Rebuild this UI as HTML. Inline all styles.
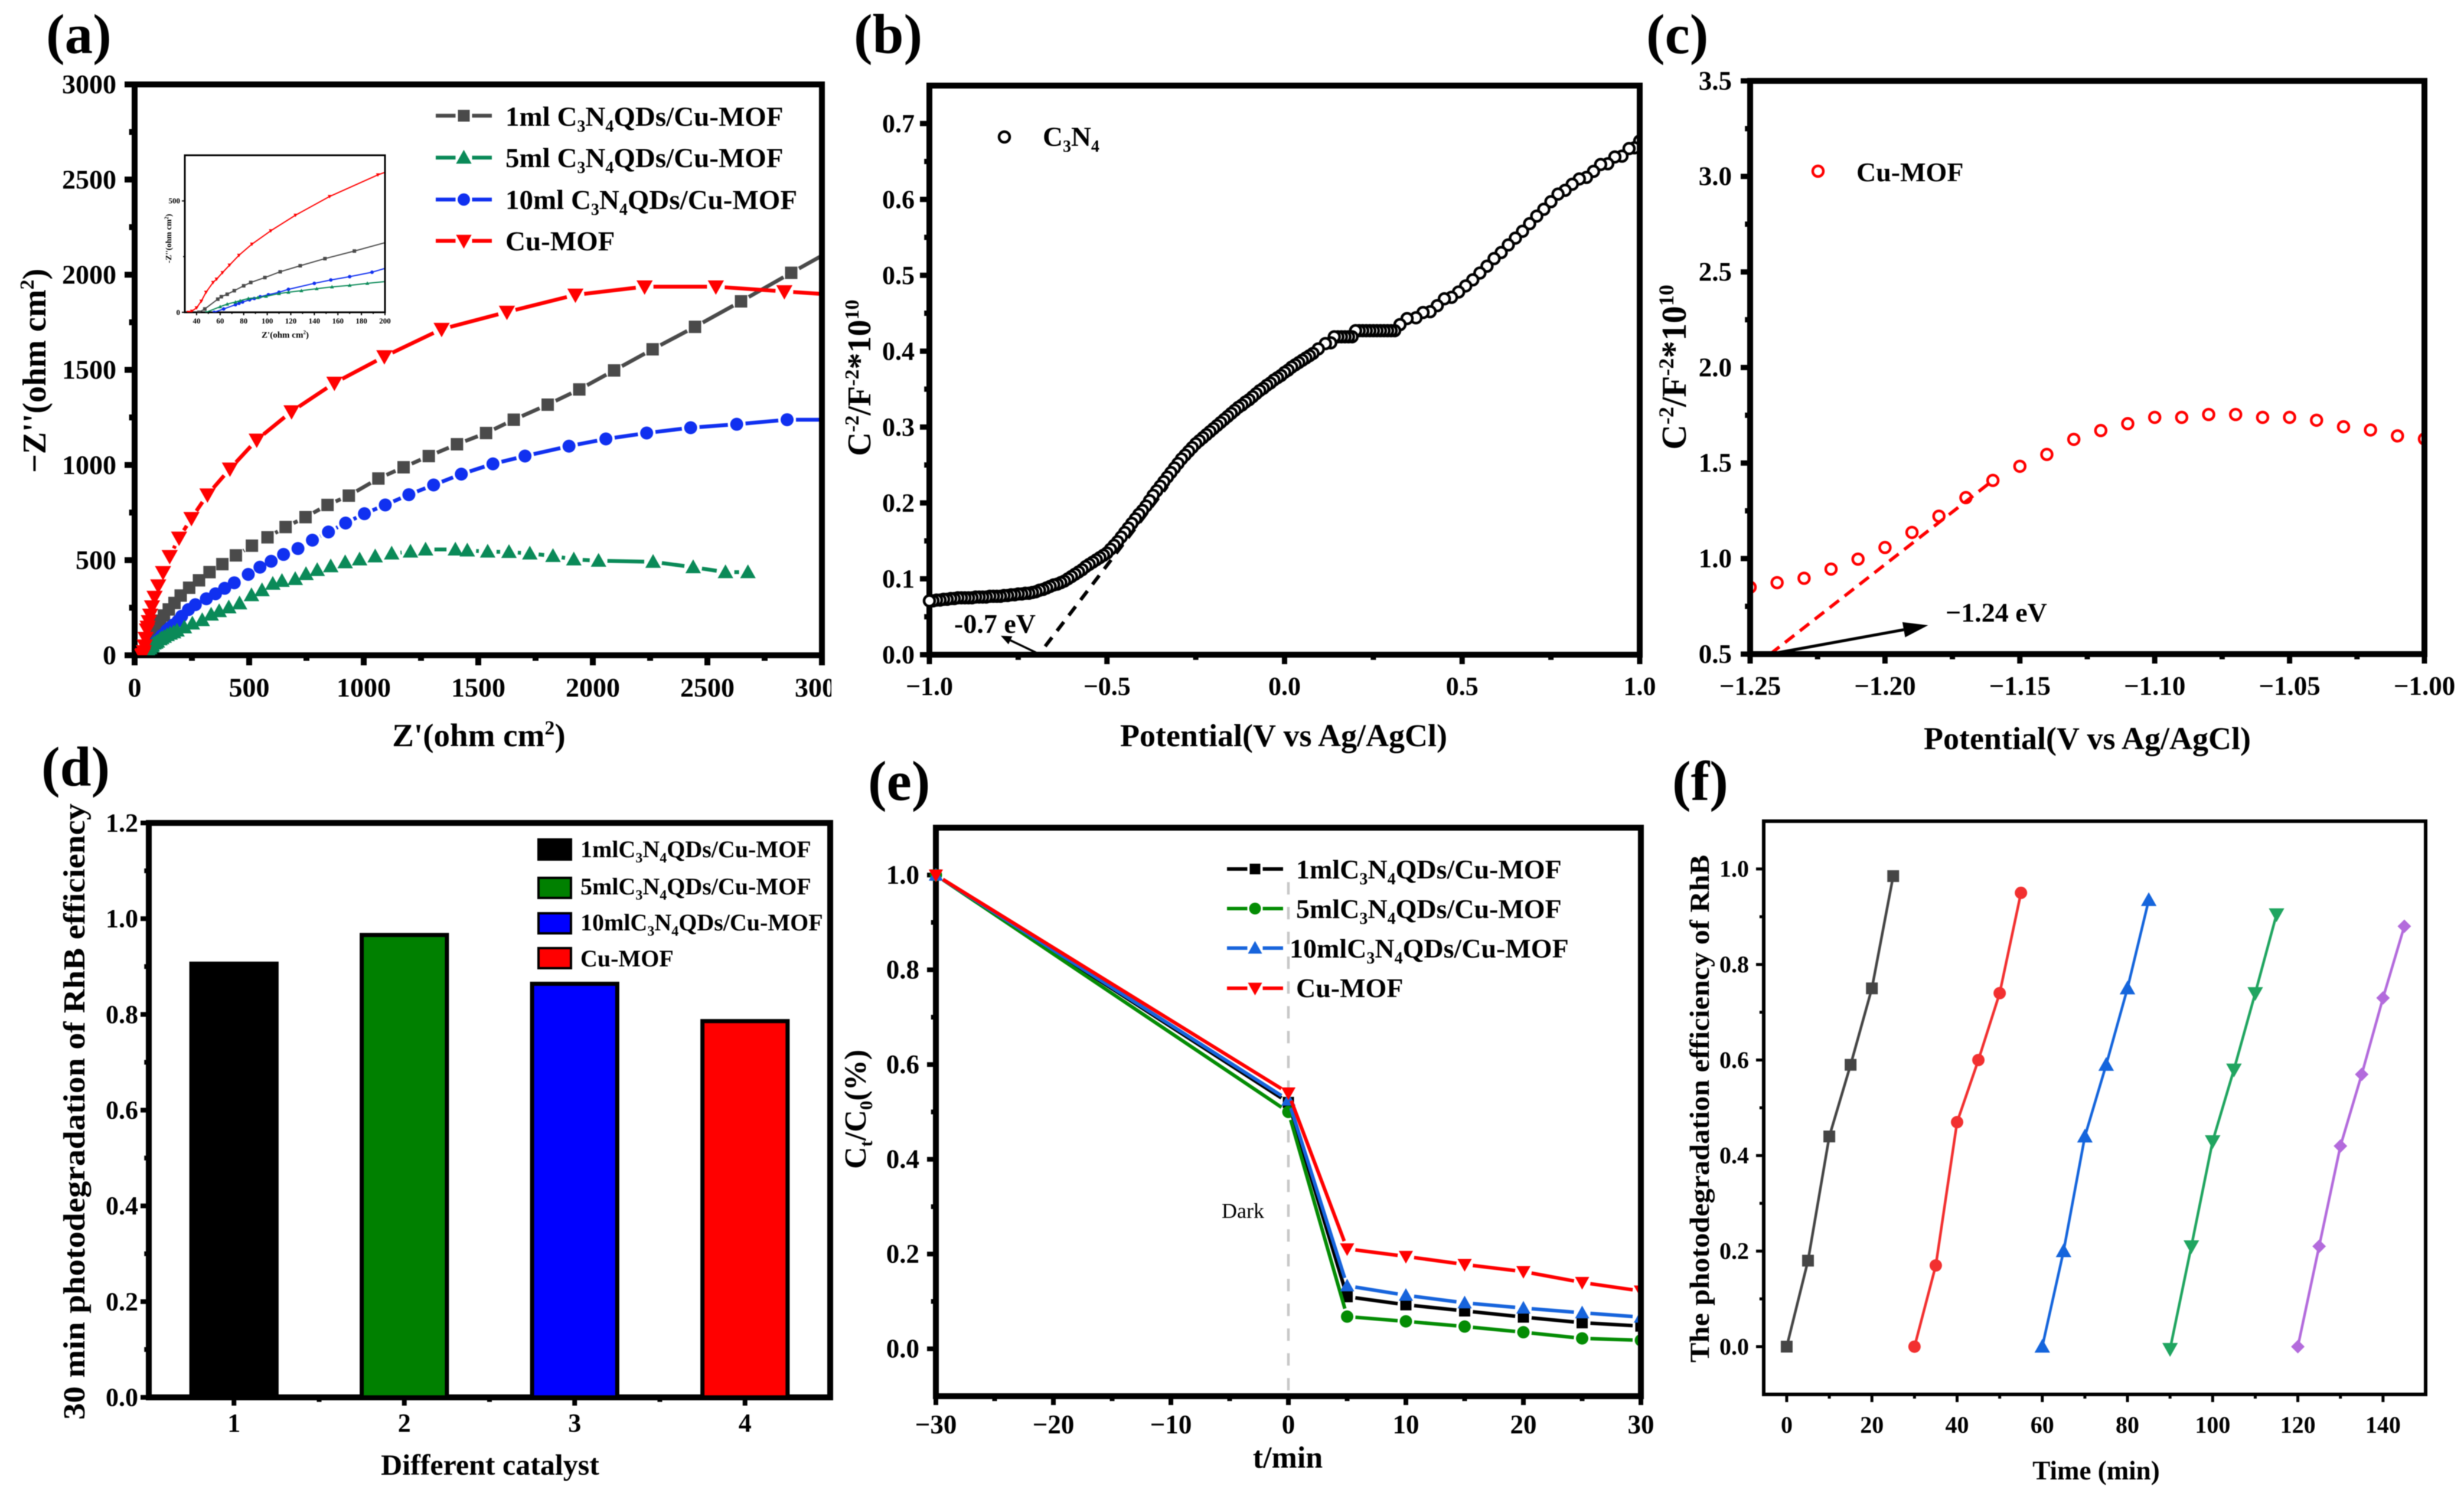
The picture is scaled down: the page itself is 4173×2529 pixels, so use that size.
<!DOCTYPE html>
<html lang="en">
<head>
<meta charset="utf-8">
<title>C3N4QDs/Cu-MOF characterisation figure</title>
<style>
html,body{margin:0;padding:0;background:#fff;}
svg{display:block;filter:blur(0.8px);}
text{font-family:"Liberation Serif",serif;font-weight:bold;fill:#000;}
</style>
</head>
<body>
<svg id="figure" width="4173" height="2529" viewBox="0 0 4173 2529">
<rect x="0" y="0" width="4173" height="2529" fill="#fff"/>
<defs id="clips"></defs>

<g id="panel-a"></g>
<g id="panel-b"></g>
<g id="panel-c"></g>
<g id="panel-d"></g>
<g id="panel-e"></g>
<g id="panel-f"></g>

<!-- panel letters -->
<text x="78" y="90" font-size="95">(a)</text>
<text x="1446" y="90" font-size="95">(b)</text>
<text x="2788" y="90" font-size="95">(c)</text>
<text x="70" y="1331" font-size="95">(d)</text>
<text x="1470" y="1355" font-size="95">(e)</text>
<text x="2832" y="1355" font-size="95">(f)</text>

<!-- panel a text -->
<text x="811" y="1264" font-size="55" text-anchor="middle">Z'(ohm cm<tspan font-size="34" dy="-20">2</tspan><tspan dy="20">)</tspan></text>
<text transform="translate(77,628) rotate(-90)" font-size="56" text-anchor="middle">−Z''(ohm cm<tspan font-size="34" dy="-20">2</tspan><tspan dy="20">)</tspan></text>
<g font-size="47">
<text x="856" y="213" font-size="47">1ml C<tspan font-size="28" dy="10">3</tspan><tspan dy="-10">N</tspan><tspan font-size="28" dy="10">4</tspan><tspan dy="-10">QDs/Cu-MOF</tspan></text>
<text x="856" y="283" font-size="47">5ml C<tspan font-size="28" dy="10">3</tspan><tspan dy="-10">N</tspan><tspan font-size="28" dy="10">4</tspan><tspan dy="-10">QDs/Cu-MOF</tspan></text>
<text x="856" y="354" font-size="47">10ml C<tspan font-size="28" dy="10">3</tspan><tspan dy="-10">N</tspan><tspan font-size="28" dy="10">4</tspan><tspan dy="-10">QDs/Cu-MOF</tspan></text>
<text x="856" y="424" font-size="47">Cu-MOF</text>
</g>
<text x="483" y="572" font-size="15" text-anchor="middle">Z'(ohm cm<tspan font-size="9" dy="-6">2</tspan><tspan dy="6">)</tspan></text>
<text transform="translate(290,404) rotate(-90)" font-size="14" text-anchor="middle">-Z''(ohm cm<tspan font-size="9" dy="-5">2</tspan><tspan dy="5">)</tspan></text>

<!-- panel b text -->
<text x="2174" y="1264" font-size="54" text-anchor="middle">Potential(V vs Ag/AgCl)</text>
<text transform="translate(1474,640) rotate(-90)" font-size="56" text-anchor="middle">C<tspan font-size="34" dy="-20">-2</tspan><tspan dy="20">/F</tspan><tspan font-size="34" dy="-20">-2</tspan><tspan dy="20">*10</tspan><tspan font-size="34" dy="-20">10</tspan></text>
<text x="1766" y="247" font-size="47">C<tspan font-size="28" dy="10">3</tspan><tspan dy="-10">N</tspan><tspan font-size="28" dy="10">4</tspan></text>
<text x="1616" y="1072" font-size="46">-0.7 eV</text>

<!-- panel c text -->
<text x="3535" y="1269" font-size="54" text-anchor="middle">Potential(V vs Ag/AgCl)</text>
<text transform="translate(2855,622) rotate(-90)" font-size="59" text-anchor="middle">C<tspan font-size="36" dy="-21">-2</tspan><tspan dy="21">/F</tspan><tspan font-size="36" dy="-21">-2</tspan><tspan dy="21">*10</tspan><tspan font-size="36" dy="-21">10</tspan></text>
<text x="3144" y="307" font-size="46">Cu-MOF</text>
<text x="3295" y="1053" font-size="46">−1.24 eV</text>

<!-- panel d text -->
<text x="830" y="2498" font-size="50" text-anchor="middle">Different catalyst</text>
<text transform="translate(143,1883) rotate(-90)" font-size="52" text-anchor="middle" textLength="1044" lengthAdjust="spacingAndGlyphs">30 min photodegradation of RhB efficiency</text>
<text x="983" y="1452" font-size="40">1mlC<tspan font-size="24" dy="9">3</tspan><tspan dy="-9">N</tspan><tspan font-size="24" dy="9">4</tspan><tspan dy="-9">QDs/Cu-MOF</tspan></text>
<text x="983" y="1515" font-size="40">5mlC<tspan font-size="24" dy="9">3</tspan><tspan dy="-9">N</tspan><tspan font-size="24" dy="9">4</tspan><tspan dy="-9">QDs/Cu-MOF</tspan></text>
<text x="983" y="1576" font-size="40">10mlC<tspan font-size="24" dy="9">3</tspan><tspan dy="-9">N</tspan><tspan font-size="24" dy="9">4</tspan><tspan dy="-9">QDs/Cu-MOF</tspan></text>
<text x="983" y="1637" font-size="40">Cu-MOF</text>

<!-- panel e text -->
<text x="2181" y="2486" font-size="52" text-anchor="middle">t/min</text>
<text transform="translate(1466,1879) rotate(-90)" font-size="52" text-anchor="middle">C<tspan font-size="31" dy="11">t</tspan><tspan dy="-11">/C</tspan><tspan font-size="31" dy="11">0</tspan><tspan dy="-11">(%)</tspan></text>
<text x="2195" y="1488" font-size="46">1mlC<tspan font-size="28" dy="10">3</tspan><tspan dy="-10">N</tspan><tspan font-size="28" dy="10">4</tspan><tspan dy="-10">QDs/Cu-MOF</tspan></text>
<text x="2195" y="1555" font-size="46">5mlC<tspan font-size="28" dy="10">3</tspan><tspan dy="-10">N</tspan><tspan font-size="28" dy="10">4</tspan><tspan dy="-10">QDs/Cu-MOF</tspan></text>
<text x="2184" y="1622" font-size="46">10mlC<tspan font-size="28" dy="10">3</tspan><tspan dy="-10">N</tspan><tspan font-size="28" dy="10">4</tspan><tspan dy="-10">QDs/Cu-MOF</tspan></text>
<text x="2195" y="1689" font-size="46">Cu-MOF</text>
<text x="2069" y="2063" font-size="36" style="font-weight:normal">Dark</text>

<!-- panel f text -->
<text x="3550" y="2506" font-size="45" text-anchor="middle">Time (min)</text>
<text transform="translate(2894,1878) rotate(-90)" font-size="47" text-anchor="middle" textLength="860" lengthAdjust="spacingAndGlyphs">The photodegradation efficiency of RhB</text>

<script>
/* ---------- panel (a) data ---------- */
const aXTicks = [0,500,1000,1500,2000,2500,3000];
const aXLabels = ['0','500','1000','1500','2000','2500','3000'];
const aYTicks = [0,500,1000,1500,2000,2500,3000];
const aYLabels = ['0','500','1000','1500','2000','2500','3000'];
const aBlackX = [42,47,58,61,66,72,80,86,98,111,128,149,174,201,238,281,327,383,442,512,580,659,746,842,935,1064,1174,1284,1407,1534,1655,1803,1941,2093,2261,2446,2647,2866,3000];
const aBlackY = [0,15,59,70,81,97,119,134,156,182,209,241,275,314,355,394,437,479,525,576,620,674,726,790,839,929,988,1047,1109,1168,1238,1317,1397,1497,1608,1726,1860,2010,2100];
const aGreenX = [48,60,66,73,77,84,92,99,110,118,129,142,155,170,185,217,252,295,334,369,411,458,510,556,603,643,701,748,797,856,919,982,1050,1122,1204,1270,1400,1452,1541,1634,1725,1826,1917,2025,2263,2438,2579,2677];
const aGreenY = [0,25,37,46,52,62,66,72,84,90,97,106,114,121,130,147,167,185,214,232,252,273,316,342,376,391,401,427,448,468,489,504,520,535,545,556,556,551,545,543,535,522,504,497,491,463,437,437];
const aBlueX = [55,63,73,76,79,85,89,94,101,110,118,140,154,170,189,205,235,265,313,353,393,435,496,547,596,650,713,776,846,921,1003,1094,1197,1305,1426,1564,1704,1896,2057,2235,2427,2628,2848,3000];
const aBlueY = [0,15,34,40,46,56,62,70,79,90,103,130,145,160,180,205,240,266,297,323,352,381,425,463,494,530,561,605,648,695,744,790,844,895,952,1006,1047,1099,1137,1168,1196,1214,1238,1238];
const aRedX = [33,36,40,44,48,54,57,62,68,76,87,103,124,153,194,248,318,416,533,685,872,1090,1340,1625,1924,2226,2537,2836,3000];
const aRedY = [0,5,20,50,90,134,149,178,212,256,306,366,436,520,617,720,844,980,1132,1281,1431,1570,1714,1804,1894,1937,1937,1912,1899];
const insetXTicks = [40,60,80,100,120,140,160,180,200];
const insetXLabels = ['40','60','80','100','120','140','160','180','200'];
const insetYTicks = [0,500];
const insetYLabels = ['0','500'];

/* ---------- panel (b) data ---------- */
const bXTicks = [-1,-0.5,0,0.5,1];
const bXLabels = ['−1.0','−0.5','0.0','0.5','1.0'];
const bYTicks = [0,0.1,0.2,0.3,0.4,0.5,0.6,0.7];
const bYLabels = ['0.0','0.1','0.2','0.3','0.4','0.5','0.6','0.7'];
const bPotential = [-1,-0.99,-0.98,-0.97,-0.96,-0.95,-0.94,-0.93,-0.92,-0.91,-0.9,-0.89,-0.88,-0.87,-0.86,-0.85,-0.84,-0.83,-0.82,-0.81,-0.8,-0.79,-0.78,-0.77,-0.76,-0.75,-0.74,-0.73,-0.72,-0.71,-0.7,-0.69,-0.68,-0.67,-0.66,-0.65,-0.64,-0.63,-0.62,-0.61,-0.6,-0.59,-0.58,-0.57,-0.56,-0.55,-0.54,-0.53,-0.52,-0.51,-0.5,-0.49,-0.48,-0.47,-0.46,-0.45,-0.44,-0.43,-0.42,-0.41,-0.4,-0.39,-0.38,-0.37,-0.36,-0.35,-0.34,-0.33,-0.32,-0.31,-0.3,-0.29,-0.28,-0.27,-0.26,-0.25,-0.24,-0.23,-0.22,-0.21,-0.2,-0.19,-0.18,-0.17,-0.16,-0.15,-0.14,-0.13,-0.12,-0.11,-0.1,-0.09,-0.08,-0.07,-0.06,-0.05,-0.04,-0.03,-0.02,-0.01,0,0.01,0.02,0.03,0.04,0.05,0.06,0.07,0.08,0.095,0.115,0.13,0.14,0.15,0.16,0.17,0.18,0.19,0.2,0.21,0.22,0.23,0.24,0.25,0.26,0.27,0.28,0.29,0.3,0.31,0.325,0.345,0.37,0.39,0.41,0.43,0.45,0.47,0.49,0.51,0.53,0.55,0.57,0.59,0.61,0.63,0.65,0.67,0.69,0.71,0.73,0.75,0.77,0.79,0.81,0.83,0.85,0.87,0.89,0.91,0.93,0.95,0.97,0.985,1];
const bCapacitance = [0.071,0.071,0.072,0.072,0.073,0.073,0.074,0.074,0.075,0.075,0.075,0.075,0.075,0.076,0.076,0.076,0.076,0.077,0.077,0.077,0.077,0.078,0.078,0.079,0.079,0.08,0.08,0.081,0.081,0.082,0.083,0.085,0.086,0.088,0.09,0.092,0.093,0.095,0.097,0.1,0.103,0.106,0.109,0.112,0.116,0.119,0.122,0.125,0.128,0.131,0.134,0.139,0.144,0.149,0.155,0.161,0.167,0.173,0.179,0.185,0.19,0.196,0.203,0.21,0.216,0.222,0.228,0.234,0.24,0.246,0.252,0.258,0.263,0.268,0.273,0.278,0.282,0.286,0.29,0.294,0.298,0.302,0.306,0.31,0.314,0.318,0.322,0.326,0.329,0.333,0.336,0.34,0.344,0.348,0.351,0.355,0.358,0.362,0.365,0.368,0.372,0.375,0.379,0.382,0.385,0.388,0.391,0.394,0.397,0.403,0.41,0.411,0.419,0.419,0.419,0.419,0.419,0.419,0.427,0.427,0.427,0.427,0.427,0.427,0.427,0.427,0.427,0.427,0.427,0.427,0.435,0.443,0.444,0.451,0.452,0.46,0.469,0.471,0.478,0.486,0.494,0.503,0.512,0.522,0.53,0.54,0.549,0.558,0.568,0.578,0.587,0.597,0.607,0.612,0.62,0.627,0.629,0.637,0.646,0.647,0.656,0.657,0.667,0.668,0.677,0.677,0.677];

/* ---------- panel (c) data ---------- */
const cXTicks = [-1.25,-1.2,-1.15,-1.1,-1.05,-1];
const cXLabels = ['−1.25','−1.20','−1.15','−1.10','−1.05','−1.00'];
const cYTicks = [0.5,1,1.5,2,2.5,3,3.5];
const cYLabels = ['0.5','1.0','1.5','2.0','2.5','3.0','3.5'];
const cPotential = [-1.25,-1.24,-1.23,-1.22,-1.21,-1.2,-1.19,-1.18,-1.17,-1.16,-1.15,-1.14,-1.13,-1.12,-1.11,-1.1,-1.09,-1.08,-1.07,-1.06,-1.05,-1.04,-1.03,-1.02,-1.01,-1];
const cCapacitance = [0.85,0.874,0.897,0.945,0.997,1.058,1.137,1.222,1.319,1.409,1.483,1.545,1.624,1.67,1.706,1.739,1.739,1.754,1.754,1.739,1.739,1.724,1.69,1.673,1.642,1.626];

/* ---------- panel (d) data ---------- */
const dCategories = [1,2,3,4];
const dCategoryLabels = ['1','2','3','4'];
const dEfficiency = [0.906,0.966,0.864,0.786];
const dColors = ['#000000','#008000','#0000ff','#ff0000'];
const dYTicks = [0,0.2,0.4,0.6,0.8,1,1.2];
const dYLabels = ['0.0','0.2','0.4','0.6','0.8','1.0','1.2'];

/* ---------- panel (e) data ---------- */
const eXTicks = [-30,-20,-10,0,10,20,30];
const eXLabels = ['−30','−20','−10','0','10','20','30'];
const eYTicks = [0,0.2,0.4,0.6,0.8,1];
const eYLabels = ['0.0','0.2','0.4','0.6','0.8','1.0'];
const eTime = [-30,0,5,10,15,20,25,30];
const e1ml = [1,0.52,0.11,0.093,0.08,0.067,0.055,0.048];
const e5ml = [1,0.5,0.068,0.058,0.047,0.035,0.022,0.018];
const e10ml = [1,0.525,0.133,0.113,0.097,0.086,0.076,0.067];
const eCuMof = [1,0.54,0.211,0.195,0.178,0.163,0.14,0.122];

/* ---------- panel (f) data ---------- */
const fXTicks = [0,20,40,60,80,100,120,140];
const fXLabels = ['0','20','40','60','80','100','120','140'];
const fYTicks = [0,0.2,0.4,0.6,0.8,1];
const fYLabels = ['0.0','0.2','0.4','0.6','0.8','1.0'];
const fTime1 = [0,5,10,15,20,25];
const fRun1 = [0,0.18,0.44,0.59,0.75,0.985];
const fTime2 = [30,35,40,45,50,55];
const fRun2 = [0,0.17,0.47,0.6,0.74,0.95];
const fTime3 = [60,65,70,75,80,85];
const fRun3 = [0,0.2,0.44,0.59,0.75,0.935];
const fTime4 = [90,95,100,105,110,115];
const fRun4 = [-0.005,0.21,0.43,0.58,0.74,0.905];
const fTime5 = [120,125,130,135,140,145];
const fRun5 = [0,0.21,0.42,0.57,0.73,0.88];

/* ---------- helpers ---------- */
const NS = 'http://www.w3.org/2000/svg';
function mk(parent, tag, name, attrs) {
  const el = document.createElementNS(NS, tag);
  
  
  for (const k in attrs) el.setAttribute(k, attrs[k]);
  parent.appendChild(el);
  return el;
}
function label(parent, name, str, x, y, size, anchor, extra) {
  const el = mk(parent, 'text', name, Object.assign({x:x, y:y, 'font-size':size, 'text-anchor':anchor}, extra || {}));
  el.textContent = str;
  return el;
}
function marker(parent, name, shape, cx, cy, s, fill, stroke, sw) {
  const h = s / 2;
  const common = {fill: fill, stroke: stroke, 'stroke-width': sw};
  if (shape === 'square') return mk(parent, 'rect', name, Object.assign({x: cx - h, y: cy - h, width: s, height: s}, common));
  if (shape === 'circle') return mk(parent, 'circle', name, Object.assign({cx: cx, cy: cy, r: h}, common));
  let pts;
  if (shape === 'up') pts = [[cx, cy - h * 1.1], [cx + h * 1.1, cy + h * 0.85], [cx - h * 1.1, cy + h * 0.85]];
  if (shape === 'down') pts = [[cx, cy + h * 1.1], [cx + h * 1.1, cy - h * 0.85], [cx - h * 1.1, cy - h * 0.85]];
  if (shape === 'diamond') pts = [[cx, cy - h * 1.15], [cx + h * 1.15, cy], [cx, cy + h * 1.15], [cx - h * 1.15, cy]];
  return mk(parent, 'polygon', name, Object.assign({points: pts.map(p => p.join(',')).join(' ')}, common));
}
let clipCount = 0;
function axes(root, key, box, xDom, yDom, xT, xL, yT, yL, st) {
  const x = v => box.l + (v - xDom[0]) / (xDom[1] - xDom[0]) * (box.r - box.l);
  const y = v => box.b - (v - yDom[0]) / (yDom[1] - yDom[0]) * (box.b - box.t);
  const id = 'clip-' + key + '-' + (clipCount++);
  const cp = document.createElementNS(NS, 'clipPath');
  cp.setAttribute('id', id);
  const pad = st.pad === undefined ? 24 : st.pad;
  const cr = document.createElementNS(NS, 'rect');
  cr.setAttribute('x', box.l - pad);
  cr.setAttribute('y', box.t);
  cr.setAttribute('width', box.r - box.l + pad - st.frame / 2);
  cr.setAttribute('height', box.b - box.t + (st.padBottom === undefined ? pad : st.padBottom));
  cp.appendChild(cr);
  document.getElementById('clips').appendChild(cp);

  const frame = () => mk(root, 'rect', key + '-plot-frame', {x: box.l, y: box.t, width: box.r - box.l, height: box.b - box.t, fill: 'none', stroke: '#000', 'stroke-width': st.frame});
  if (!st.frameLast) frame();

  const tickW = st.tickW;
  xT.forEach((v, i) => {
    mk(root, 'line', key + '-x-tick', {x1: x(v), x2: x(v), y1: box.b, y2: box.b + st.tickLen, stroke: '#000', 'stroke-width': tickW});
    if (i < xT.length - 1) {
      const m = (v + xT[i + 1]) / 2;
      mk(root, 'line', key + '-x-minor-tick', {x1: x(m), x2: x(m), y1: box.b, y2: box.b + st.tickLen * 0.55, stroke: '#000', 'stroke-width': tickW});
    }
    const extra = st.labelClip ? {'clip-path': 'url(#' + st.labelClip + ')'} : {};
    label(root, key + '-x-tick-label', xL[i], x(v), st.xBase, st.font, 'middle', extra);
  });
  yT.forEach((v, i) => {
    mk(root, 'line', key + '-y-tick', {x1: box.l - st.tickLen, x2: box.l, y1: y(v), y2: y(v), stroke: '#000', 'stroke-width': tickW});
    if (i < yT.length - 1) {
      const m = (v + yT[i + 1]) / 2;
      mk(root, 'line', key + '-y-minor-tick', {x1: box.l - st.tickLen * 0.55, x2: box.l, y1: y(m), y2: y(m), stroke: '#000', 'stroke-width': tickW});
    }
    label(root, key + '-y-tick-label', yL[i], st.yRight, y(v) + st.font * 0.33, st.font, 'end');
  });
  const marks = mk(root, 'g', key + '-marks', {'clip-path': 'url(#' + id + ')'});
  return {x: x, y: y, box: box, marks: marks, root: root, frame: frame};
}
function series(p, name, xs, ys, color, shape, size, lw, opt) {
  opt = opt || {};
  const g = mk(p.marks, 'g', name, {});
  const gap = opt.gap || 0;
  if (gap > 0) {
    /* Origin-style: each segment stops short of the markers at both ends */
    for (let i = 0; i < xs.length - 1; i++) {
      const x0 = p.x(xs[i]), y0 = p.y(ys[i]), x1 = p.x(xs[i + 1]), y1 = p.y(ys[i + 1]);
      const d = Math.hypot(x1 - x0, y1 - y0);
      const endGap = (opt.noMarkerAt !== undefined && xs[i + 1] >= opt.noMarkerAt) ? 0 : gap;
      if (d <= gap + endGap) continue;
      const ux = (x1 - x0) / d, uy = (y1 - y0) / d;
      mk(g, 'line', name + '-segment', {x1: x0 + ux * gap, y1: y0 + uy * gap, x2: x1 - ux * endGap, y2: y1 - uy * endGap, stroke: color, 'stroke-width': lw});
    }
  } else {
    mk(g, 'polyline', name + '-line', {points: xs.map((v, i) => p.x(v) + ',' + p.y(ys[i])).join(' '), fill: 'none', stroke: color, 'stroke-width': lw, 'stroke-linejoin': 'round'});
  }
  xs.forEach((v, i) => {
    if (opt.noMarkerAt !== undefined && v >= opt.noMarkerAt) return;
    marker(g, name + '-point', shape, p.x(v), p.y(ys[i]), size, color, 'none', 0);
  });
}
function arrow(parent, name, x1, y1, x2, y2, len, wid, lw) {
  const a = Math.atan2(y2 - y1, x2 - x1);
  const bx = x2 - Math.cos(a) * len, by = y2 - Math.sin(a) * len;
  const nx = -Math.sin(a) * wid / 2, ny = Math.cos(a) * wid / 2;
  mk(parent, 'line', name + '-shaft', {x1: x1, y1: y1, x2: bx, y2: by, stroke: '#000', 'stroke-width': lw});
  mk(parent, 'polygon', name + '-head', {points: [x2 + ',' + y2, (bx + nx) + ',' + (by + ny), (bx - nx) + ',' + (by - ny)].join(' '), fill: '#000'});
}
function legendHandle(parent, name, x1, x2, y, color, shape, size, lw, gap) {
  const mid = (x1 + x2) / 2;
  mk(parent, 'line', name + '-line-left', {x1: x1, x2: mid - gap, y1: y, y2: y, stroke: color, 'stroke-width': lw});
  mk(parent, 'line', name + '-line-right', {x1: mid + gap, x2: x2, y1: y, y2: y, stroke: color, 'stroke-width': lw});
  marker(parent, name + '-marker', shape, mid, y, size, color, 'none', 0);
}

/* label clip so the 3000 tick of panel (a) is cut by panel (b), as in the figure */
(function () {
  const cp = document.createElementNS(NS, 'clipPath');
  cp.setAttribute('id', 'clip-a-labels');
  const r = document.createElementNS(NS, 'rect');
  r.setAttribute('x', 0); r.setAttribute('y', 0); r.setAttribute('width', 1408); r.setAttribute('height', 2529);
  cp.appendChild(r);
  document.getElementById('clips').appendChild(cp);
})();

const colBlack = '#4a4a4a', colGreen = '#0a8a58', colBlue = '#1030f0', colRed = '#ff0000';

/* ---------- panel a ---------- */
(function () {
  const root = document.getElementById('panel-a');
  const p = axes(root, 'a', {l:228, r:1392, t:143, b:1110}, [0,3000], [0,3000], aXTicks, aXLabels, aYTicks, aYLabels,
    {frame:10, tickLen:17, tickW:10, font:46, xBase:1180, yRight:197, labelClip:'clip-a-labels', padBottom:0});
  const o = {noMarkerAt:3000, gap:15};
  series(p, 'a-series-1ml', aBlackX, aBlackY, colBlack, 'square', 21, 6.5, o);
  series(p, 'a-series-10ml', aBlueX, aBlueY, colBlue, 'circle', 22, 6.5, o);
  series(p, 'a-series-5ml', aGreenX, aGreenY, colGreen, 'up', 24, 6.5, o);
  series(p, 'a-series-cu-mof', aRedX, aRedY, colRed, 'down', 25, 6.5, o);
  legendHandle(root, 'a-legend-handle-1ml', 738, 833, 196, colBlack, 'square', 20, 6.5, 14);
  legendHandle(root, 'a-legend-handle-5ml', 738, 833, 267, colGreen, 'up', 24, 6.5, 14);
  legendHandle(root, 'a-legend-handle-10ml', 738, 833, 338, colBlue, 'circle', 21, 6.5, 14);
  legendHandle(root, 'a-legend-handle-cu-mof', 738, 833, 408, colRed, 'down', 24, 6.5, 14);

  const inset = mk(root, 'g', 'a-inset', {});
  mk(inset, 'rect', 'a-inset-background', {x:313, y:263, width:339, height:266, fill:'#fff'});
  const q = axes(inset, 'inset', {l:313, r:652, t:263, b:529}, [30,200], [0,705], insetXTicks, insetXLabels, insetYTicks, insetYLabels,
    {frame:3, tickLen:5, tickW:2, font:13, xBase:548, yRight:305, pad:0});
  series(q, 'inset-series-1ml', aBlackX, aBlackY, colBlack, 'square', 6, 2);
  series(q, 'inset-series-10ml', aBlueX, aBlueY, colBlue, 'circle', 6, 2);
  series(q, 'inset-series-5ml', aGreenX, aGreenY, colGreen, 'up', 6, 2);
  series(q, 'inset-series-cu-mof', aRedX, aRedY, colRed, 'down', 6, 2);
})();

/* ---------- panel b ---------- */
(function () {
  const root = document.getElementById('panel-b');
  const p = axes(root, 'b', {l:1574, r:2777, t:145, b:1109}, [-1,1], [0,0.75], bXTicks, bXLabels, bYTicks, bYLabels,
    {frame:10, tickLen:16, tickW:9, font:44, xBase:1177, yRight:1549});
  mk(p.marks, 'line', 'b-tangent-line', {x1:p.x(-0.674), y1:p.y(0.011), x2:p.x(-0.33), y2:p.y(0.222), stroke:'#000', 'stroke-width':6, 'stroke-dasharray':'19 14'});
  const g = mk(p.marks, 'g', 'b-series-c3n4', {});
  /* white-filled rings painted from the high-potential end, so each ring overlaps its right-hand neighbour */
  for (let i = bPotential.length - 1; i >= 0; i--) {
    marker(g, 'b-point', 'circle', p.x(bPotential[i]), p.y(bCapacitance[i]), 18, '#fff', '#000', 4.5);
  }
  arrow(root, 'b-annotation-arrow', p.x(-0.696), p.y(0.002), p.x(-0.799), p.y(0.025), 18, 15, 3.5);
  marker(root, 'b-legend-marker', 'circle', 1701, 232, 18, '#fff', '#000', 4.5);
})();

/* ---------- panel c ---------- */
(function () {
  const root = document.getElementById('panel-c');
  const p = axes(root, 'c', {l:2964, r:4106, t:137, b:1108}, [-1.25,-1], [0.5,3.5], cXTicks, cXLabels, cYTicks, cYLabels,
    {frame:10, tickLen:16, tickW:9, font:45, xBase:1177, yRight:2933, pad:0, frameLast:true});
  mk(p.marks, 'line', 'c-tangent-line', {x1:p.x(-1.2426), y1:p.y(0.5), x2:p.x(-1.16), y2:p.y(1.409), stroke:'#ff0000', 'stroke-width':5.5, 'stroke-dasharray':'20 12'});
  const g = mk(p.marks, 'g', 'c-series-cu-mof', {});
  cPotential.forEach((v, i) => {
    marker(g, 'c-point', 'circle', p.x(v), p.y(cCapacitance[i]), 18, 'none', '#ff0000', 4.5);
  });
  p.frame();
  arrow(root, 'c-annotation-arrow', p.x(-1.2426), p.y(0.5), p.x(-1.184), p.y(0.651), 42, 26, 5);
  marker(root, 'c-legend-marker', 'circle', 3079, 290, 18, 'none', '#ff0000', 4.5);
})();

/* ---------- panel d ---------- */
(function () {
  const root = document.getElementById('panel-d');
  const p = axes(root, 'd', {l:252, r:1406, t:1394, b:2367}, [0.5,4.5], [0,1.2], dCategories, dCategoryLabels, dYTicks, dYLabels,
    {frame:10, tickLen:14, tickW:8, font:44, xBase:2425, yRight:234});
  const barW = 0.5;
  dCategories.forEach((c, i) => {
    const x0 = p.x(c - barW / 2), x1 = p.x(c + barW / 2);
    const bar = mk(p.marks, 'rect', 'd-bar', {x:x0, y:p.y(dEfficiency[i]), width:x1 - x0, height:p.y(0) - p.y(dEfficiency[i]), fill:dColors[i], stroke:'#000', 'stroke-width':7});
    bar.setAttribute('data-category', c);
  });
  ['1ml','5ml','10ml','cu-mof'].forEach((n, i) => {
    const tops = [1422, 1487, 1547, 1606];
    mk(root, 'rect', 'd-legend-swatch-' + n, {x:912, y:tops[i], width:55, height:34, fill:dColors[i], stroke:'#000', 'stroke-width':4});
  });
})();

/* ---------- panel e ---------- */
(function () {
  const root = document.getElementById('panel-e');
  const p = axes(root, 'e', {l:1585, r:2779, t:1402, b:2365}, [-30,30], [-0.1,1.1], eXTicks, eXLabels, eYTicks, eYLabels,
    {frame:10, tickLen:15, tickW:8, font:45, xBase:2428, yRight:1557});
  mk(p.marks, 'line', 'e-dark-divider', {x1:p.x(0), x2:p.x(0), y1:p.y(0.985), y2:p.y(-0.1), stroke:'#c8c8c8', 'stroke-width':4.5, 'stroke-dasharray':'21 21'});
  const o = {gap:14};
  series(p, 'e-series-1ml', eTime, e1ml, '#000000', 'square', 19, 6, o);
  series(p, 'e-series-5ml', eTime, e5ml, '#048c04', 'circle', 21, 6, o);
  series(p, 'e-series-10ml', eTime, e10ml, '#1764dc', 'up', 22, 6, o);
  series(p, 'e-series-cu-mof', eTime, eCuMof, '#ff0000', 'down', 22, 6, o);
  legendHandle(root, 'e-legend-handle-1ml', 2078, 2173, 1472, '#000000', 'square', 18, 6, 13);
  legendHandle(root, 'e-legend-handle-5ml', 2078, 2173, 1539, '#048c04', 'circle', 20, 6, 13);
  legendHandle(root, 'e-legend-handle-10ml', 2078, 2173, 1606, '#1764dc', 'up', 22, 6, 13);
  legendHandle(root, 'e-legend-handle-cu-mof', 2078, 2173, 1674, '#ff0000', 'down', 22, 6, 13);
})();

/* ---------- panel f ---------- */
(function () {
  const root = document.getElementById('panel-f');
  const p = axes(root, 'f', {l:2987, r:4108, t:1391, b:2362}, [-5.4,150], [-0.1,1.1], fXTicks, fXLabels, fYTicks, fYLabels,
    {frame:6, tickLen:13, tickW:5, font:40, xBase:2427, yRight:2962});
  series(p, 'f-series-run-1', fTime1, fRun1, '#454545', 'square', 20, 4.5);
  series(p, 'f-series-run-2', fTime2, fRun2, '#f23030', 'circle', 21, 4.5);
  series(p, 'f-series-run-3', fTime3, fRun3, '#1565dc', 'up', 24, 4.5);
  series(p, 'f-series-run-4', fTime4, fRun4, '#20a560', 'down', 24, 4.5);
  series(p, 'f-series-run-5', fTime5, fRun5, '#b36bdc', 'diamond', 20, 4.5);
})();
</script>
</svg>
</body>
</html>
